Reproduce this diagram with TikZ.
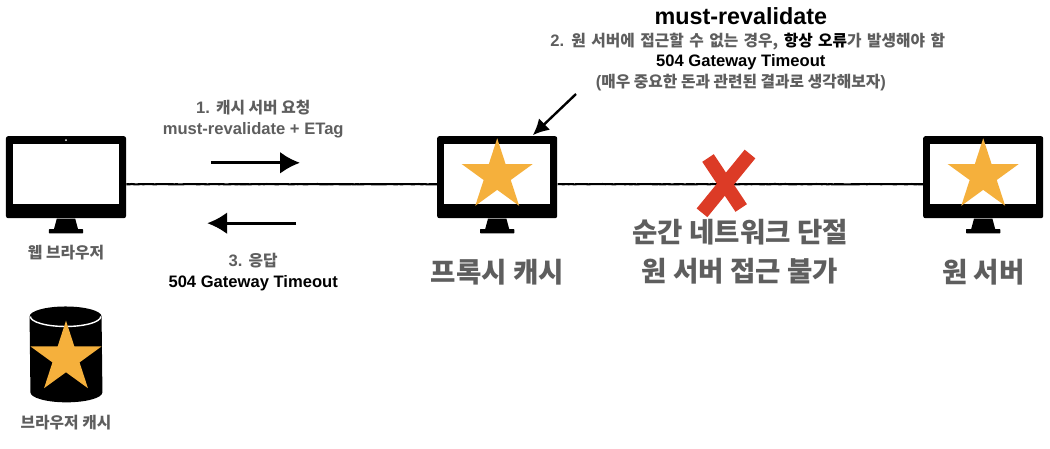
\documentclass[tikz,border=0pt]{standalone}
\usepackage{fontspec}
\setmainfont{Liberation Sans}
\newfontfamily\cjk{Noto Sans CJK KR}
\newfontfamily\cjksmall[Scale=.95]{Noto Sans CJK KR}
\usepackage{xcolor}
\usetikzlibrary{positioning}
\usetikzlibrary{shapes}
\usetikzlibrary{arrows.meta}
\usetikzlibrary{decorations.pathmorphing}
\tikzset{>={Latex[width=5.5mm,length=5mm]}}
\definecolor{labelgray}{RGB}{94,94,94}
\definecolor{staryellow}{RGB}{245,176,60}
\definecolor{crossred}{RGB}{220,59,38}

\begin{document}
\begin{tikzpicture}[semithick]
		\tikzstyle{monitor}=[fill=black,rounded corners=1.5pt,minimum width=3cm,minimum height=2.05cm,inner sep=0pt]
		\tikzstyle{bigstar}=[star,star points=5,star point ratio=2.618,fill=staryellow,minimum size=1.865cm,inner sep=0pt]
		\tikzstyle{small}=[font=\bfseries\fontsize{11.8}{15}\selectfont,text=labelgray,align=center]
		\tikzstyle{big}=[font=\bfseries\fontsize{19.6}{27.7}\selectfont,text=labelgray,align=center]
		\tikzstyle{wire}=[line width=1.5pt,decorate,decoration={random steps,segment length=2pt,amplitude=.12pt}]
		\useasboundingbox (0,0) rectangle (26.25,-11.2);
		
		\node[monitor] (browser) at (1.65,-4.43) {};
		\node[monitor] (proxy) [right of=browser,node distance=10.78cm] {};
		\node[monitor] (server) [right of=proxy,node distance=12.15cm] {};
		
		\foreach \m in {browser,proxy,server} {
			\node[fill=white,minimum width=2.65cm,minimum height=1.5cm,inner sep=0pt] (\m-screen) at ([yshift=.075cm]\m.center) {};
			\fill (\m.south) ++(-.23,0) -- ++(-.07,-.26) -- ++(.6,0) -- ++(-.07,.26) -- cycle;
			\fill[rounded corners=.5pt] (\m.south) ++(-.43,-.26) rectangle ++(.86,-.11);
		}
		\node[fill=white,circle,minimum size=1.5pt,inner sep=0pt] (browser-dot) [below=.07cm of browser.north] {};
		\node[bigstar] (proxy-star) at ([yshift=.04cm]proxy.center) {};
		\node[bigstar] (server-star) at ([yshift=.04cm]server.center) {};
		
		\node[minimum height=2.375cm,minimum width=1.8cm,inner sep=0pt] (cache) at (1.65,-8.86) {};
		\fill ([yshift=-.25cm]cache.north west) arc[start angle=180,end angle=0,x radius=.9cm,y radius=.25cm] -- ([yshift=.25cm]cache.south east) arc[start angle=0,end angle=-180,x radius=.9cm,y radius=.25cm] -- cycle;
		\draw[white,line width=1pt] ([yshift=-.25cm,xshift=.02cm]cache.north west) arc[start angle=180,end angle=360,x radius=.88cm,y radius=.25cm];
		\node[bigstar] (cache-star) at (1.65,-8.95) {};
		
		\path ([yshift=-.175cm]browser.east) edge[wire] ([yshift=-.175cm]proxy.west);
		\path ([yshift=-.175cm]proxy.east) edge[wire] ([yshift=-.175cm]server.west);
		
		\coordinate (reqstart) at (5.27,-4.07);
		\coordinate (reqend) at (7.5,-4.07);
		\coordinate (resstart) at (7.4,-5.58);
		\coordinate (resend) at (5.18,-5.58);
		\coordinate (notestart) at (14.4,-2.35);
		\coordinate (noteend) at (13.32,-3.38);
		\path (reqstart) edge[->,line width=2pt] (reqend);
		\path (resstart) edge[->,line width=2pt] (resend);
		\path (notestart) edge[-{Latex[width=4mm,length=4mm]},line width=1.7pt] (noteend);
		
		\coordinate (crossa) at (17.7,-3.95);
		\coordinate (crossb) at (18.53,-5.2);
		\coordinate (crossc) at (18.75,-3.85);
		\coordinate (crossd) at (17.55,-5.32);
		\draw[crossred,line width=9.8pt] (crossa) -- (crossb);
		\draw[crossred,line width=9.8pt] (crossc) -- (crossd);
		
		\node[small] (browser-label) [below of=browser,node distance=1.875cm] {{\cjksmall 웹 브라우저}};
		\node[small] (cache-label) [below of=cache,node distance=1.71cm] {{\cjksmall 브라우저 캐시}};
		\node[big] (proxy-label) [below of=proxy,node distance=2.375cm] {{\cjk 프록시 캐시}};
		\node[big] (server-label) [below of=server,node distance=2.375cm] {{\cjk 원 서버}};
		\node[big] (outage-label) at (18.5,-6.3) {{\cjk 순간 네트워크 단절}\\{\cjk 원 서버 접근 불가}};
		
		\node[small] (req-label) at (6.33,-2.97) {1. {\cjksmall 캐시 서버 요청}\\must-revalidate + ETag};
		\node[small] (res-label) at (6.33,-6.8) {3. {\cjksmall 응답}\\\textcolor{black}{504 Gateway Timeout}};
		
		\node[font=\bfseries\fontsize{16.6}{20}\selectfont] (title) at (18.52,-.4) {must-revalidate};
		\node[small] (note-label) [below of=title,node distance=1.16cm] {\hspace*{10pt}{\spaceskip=3.9pt 2. {\cjksmall 원 서버에 접근할 수 없는 경우,} \textcolor{black}{\cjksmall 항상 오류}{\cjksmall 가 발생해야 함}}\\[-1pt]\textcolor{black}{504 Gateway Timeout}\\({\cjksmall 매우 중요한 돈과 관련된 결과로 생각해보자})};
		\end{tikzpicture}
\end{document}
